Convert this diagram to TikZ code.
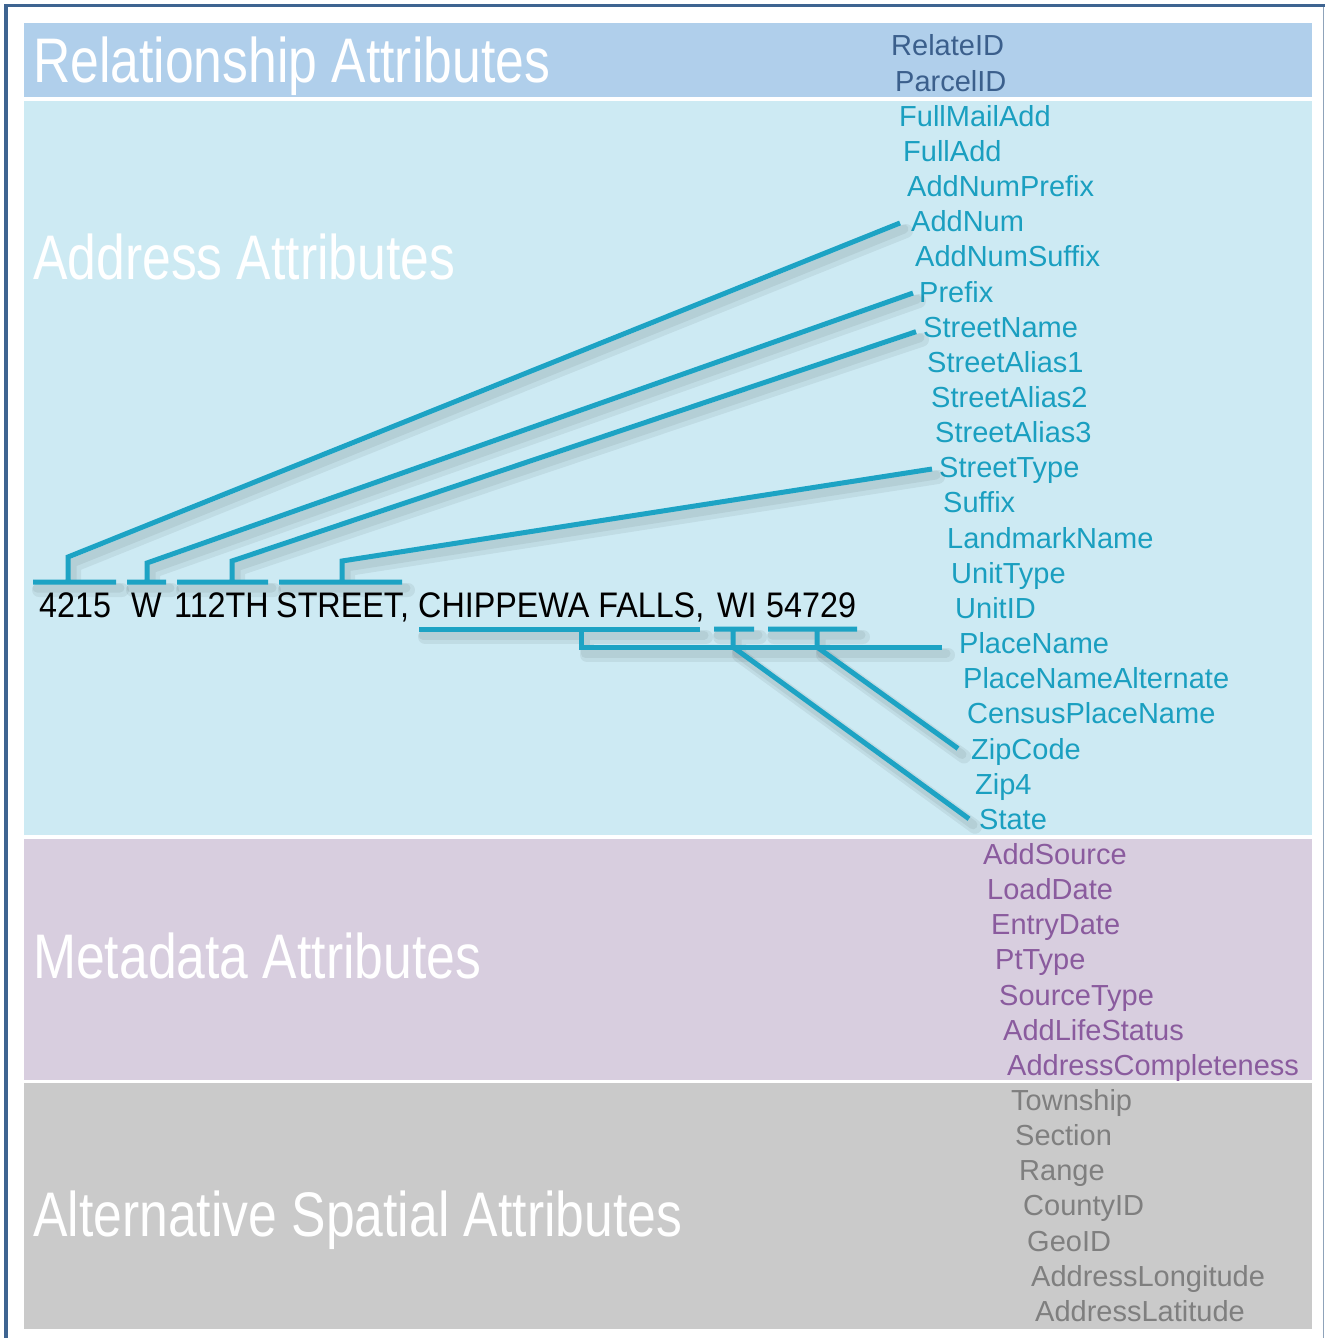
\documentclass[tikz,border=0pt]{standalone}
\usepackage{fontspec}
\setmainfont{Liberation Sans}
\usetikzlibrary{calc}

\definecolor{frameblue}{HTML}{3E6491}
\definecolor{frameside}{HTML}{8FA3BA}
\definecolor{relband}{HTML}{B0CFEB}
\definecolor{addrband}{HTML}{CDEAF3}
\definecolor{metaband}{HTML}{D8CEDF}
\definecolor{spatband}{HTML}{CACACA}
\definecolor{reltext}{HTML}{3B5F8C}
\definecolor{addrtext}{HTML}{1A9FC0}
\definecolor{metatext}{HTML}{8A5B9E}
\definecolor{spattext}{HTML}{7F7F7F}
\definecolor{linkcol}{HTML}{1DA3C4}

\tikzset{
  grouptitle/.style={anchor=base west, inner sep=0pt, text=white,
    font=\fontsize{63}{70}\selectfont},
  attr/.style={anchor=base west, inner sep=0pt, text height=21pt, text depth=0pt,
    font=\fontsize{29}{34}\selectfont, text=#1},
  addrtok/.style={anchor=base west, inner sep=0pt,
    font=\fontsize{35.5}{40}\selectfont, text=#1},
  link/.style={draw=linkcol, line width=5pt, line join=miter},
  linkshade/.style={draw=black, line width=#1, opacity=0.06, line join=round, line cap=round},
}

% bracket and leader lines from the address parts to their attribute names
\newcommand\linkpaths[1]{%
  \draw[#1] (numL) -- (numR) (numS) -- (numK) -- (AddNum-in);
  \draw[#1] (dirL) -- (dirR) (dirS) -- (dirK) -- (Prefix-in);
  \draw[#1] (nameL) -- (nameR) (nameS) -- (nameK) -- (StreetName-in);
  \draw[#1] (typeL) -- (typeR) (typeS) -- (typeK) -- (StreetType-in);
  \draw[#1] (placeL) -- (placeR) (placeS) -- (placeS |- PlaceName-in) -- (PlaceName-in);
  \draw[#1] (stL) -- (stR) (stS) -- (stS |- PlaceName-in) -- (State-in);
  \draw[#1] (zipL) -- (zipR) (zipS) -- (zipS |- PlaceName-in) -- (ZipCode-in);
}

\begin{document}
\begin{tikzpicture}[x=1pt,y=-1pt]
\useasboundingbox (0,0) rectangle (1328,1338);
\fill[white] (0,0) rectangle (1328,1338);

% frame
\draw[frameside, line width=1.5pt] (1323.5,5.5) -- (1323.5,1338);
\draw[frameblue, line width=3.5pt] (6,1338) -- (6,5.5) -- (1325,5.5);

% group bands
\fill[relband]   (24,23)    rectangle (1312,97);
\fill[addrband]  (24,101)   rectangle (1312,834.5);
\fill[metaband]  (24,838.5) rectangle (1312,1079.5);
\fill[spatband]  (24,1083)  rectangle (1312,1329);

% group titles
\node[grouptitle] (relTitle)  at (33,82)   {\scalebox{0.82}[1]{Relationship Attributes}};
\node[grouptitle] (addrTitle) at (33,279)  {\scalebox{0.82}[1]{Address Attributes}};
\node[grouptitle] (metaTitle) at (33,978)  {\scalebox{0.82}[1]{Metadata Attributes}};
\node[grouptitle] (spatTitle) at (33,1236) {\scalebox{0.82}[1]{Alternative Spatial Attributes}};

% attribute names, one row each, stepping right
\foreach \nm [count=\i from 0] in {RelateID,ParcelID}
  \node[attr=reltext] (\nm) at ({891+4*\i},{56+35.15*\i}) {\nm};
\foreach \nm [count=\i from 2] in {FullMailAdd,FullAdd,AddNumPrefix,AddNum,AddNumSuffix,
    Prefix,StreetName,StreetAlias1,StreetAlias2,StreetAlias3,StreetType,Suffix,
    LandmarkName,UnitType,UnitID,PlaceName,PlaceNameAlternate,CensusPlaceName,
    ZipCode,Zip4,State}
  \node[attr=addrtext] (\nm) at ({891+4*\i},{56+35.15*\i}) {\nm};
\foreach \nm [count=\i from 23] in {AddSource,LoadDate,EntryDate,PtType,SourceType,
    AddLifeStatus,AddressCompleteness}
  \node[attr=metatext] (\nm) at ({891+4*\i},{56+35.15*\i}) {\nm};
\foreach \nm [count=\i from 30] in {Township,Section,Range,CountyID,GeoID,
    AddressLongitude,AddressLatitude}
  \node[attr=spattext] (\nm) at ({891+4*\i},{56+35.15*\i}) {\nm};

% attach points left of the linked names
\coordinate (AddNum-in)     at ([xshift=-11pt,yshift=-1.75pt]AddNum.west);
\coordinate (Prefix-in)     at ([xshift=-6pt,yshift=-1.5pt]Prefix.west);
\coordinate (StreetName-in) at ([xshift=-7pt,yshift=-5pt]StreetName.west);
\coordinate (StreetType-in) at ([xshift=-7pt,yshift=-1.7pt]StreetType.west);
\coordinate (PlaceName-in)  at ([xshift=-17pt,yshift=-4pt]PlaceName.west);
\coordinate (ZipCode-in)    at ([xshift=-13pt]ZipCode.west);
\coordinate (State-in)      at ([xshift=-10pt]State.west);

% brackets over the street part
\coordinate (numL) at (33,582);   \coordinate (numR) at (116,582);
\coordinate (numS) at (68,582);   \coordinate (numK) at (68,557);
\coordinate (dirL) at (127,582);  \coordinate (dirR) at (166,582);
\coordinate (dirS) at (147,582);  \coordinate (dirK) at (147,563);
\coordinate (nameL) at (177,582); \coordinate (nameR) at (268,582);
\coordinate (nameS) at (232,582); \coordinate (nameK) at (232,561);
\coordinate (typeL) at (279,582); \coordinate (typeR) at (402,582);
\coordinate (typeS) at (342,582); \coordinate (typeK) at (342,561);
% brackets under the place part
\coordinate (placeL) at (419,629); \coordinate (placeR) at (700,629);
\coordinate (placeS) at (581,629);
\coordinate (stL) at (714,629);    \coordinate (stR) at (754,629);
\coordinate (stS) at (733,629);
\coordinate (zipL) at (768,629);   \coordinate (zipR) at (857,629);
\coordinate (zipS) at (817,629);

% soft shadows, then the lines
\begin{scope}[transform canvas={shift={(6,8)}}]
  \linkpaths{linkshade=14pt}
\end{scope}
\begin{scope}[transform canvas={shift={(4,6)}}]
  \linkpaths{linkshade=9pt}
\end{scope}
\linkpaths{link}

% the sample address
\foreach \xx/\tok [count=\j] in {39/4215, 131/W, 174/112TH, 276/{STREET,},
    418/{CHIPPEWA FALLS,}, 717/WI, 766/54729}
  \node[addrtok=black] (addr\j) at (\xx,617.5) {\scalebox{0.91}[1]{\tok}};
\end{tikzpicture}
\end{document}
